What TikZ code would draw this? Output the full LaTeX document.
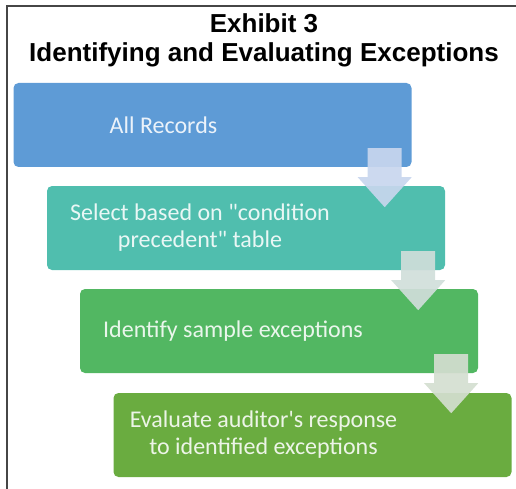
\documentclass[tikz,border=0pt]{standalone}
\usepackage{fontspec}
\setmainfont{Carlito}[Ligatures=TeXOff]
\newfontfamily\headfont{Liberation Sans}
\usetikzlibrary{calc}

\definecolor{frameline}{RGB}{70,70,70}
\definecolor{stepA}{RGB}{94,155,214}
\definecolor{stepB}{RGB}{80,190,174}
\definecolor{stepC}{RGB}{82,183,98}
\definecolor{stepD}{RGB}{106,172,64}
\definecolor{arrowA}{RGB}{200,214,238}
\definecolor{arrowB}{RGB}{208,222,218}
\definecolor{arrowC}{RGB}{212,222,208}

\tikzset{
  stagebox/.style={rectangle, rounded corners=5pt, minimum width=398pt,
    minimum height=84pt, inner sep=0pt, draw=none},
  stagetext/.style={text=white, text opacity=0.88, align=center,
    font=\fontsize{24}{27}\selectfont, inner sep=0pt},
  headline/.style={font=\headfont\bfseries\fontsize{26}{30}\selectfont,
    anchor=base, inner sep=0pt},
  downarrow/.style={fill opacity=0.92, draw=none}
}

% block arrow hanging below the lower-right part of a box
\newcommand\blockarrow[3]{%
  \fill[downarrow, fill=#3] ($(#1.south east)+(-27,-19)$) coordinate (#2)
    ++(-17,0) -- ++(34,0) -- ++(0,29) -- ++(10,0) -- ++(-27,30)
    -- ++(-27,-30) -- ++(10,0) -- cycle;}

\begin{document}
\begin{tikzpicture}[x=1pt,y=-1pt]
  \useasboundingbox (0,0) rectangle (516,489);

  % open frame: left and top rules
  \draw[frameline, line width=1.8pt] (7,489) -- (7,6) -- (516,6);

  % heading
  \node[headline] (title1) at (264,33) {Exhibit 3};
  \node[headline] (title2) at (264,62) {Identifying and Evaluating Exceptions};

  % process stages
  \node[stagebox, fill=stepA] (b1) at (212.5,125) {};
  \node[stagebox, fill=stepB] (b2) at (246,228) {};
  \node[stagebox, fill=stepC] (b3) at (279,331) {};
  \node[stagebox, fill=stepD] (b4) at (312.5,435) {};

  \node[stagetext] (t1) at ($(b1.center)+(-49,0)$) {All Records};
  \node[stagetext] (t2) at ($(b2.center)+(-46,0)$) {Select based on "condition\\precedent" table};
  \node[stagetext] (t3) at ($(b3.center)+(-46,0)$) {Identify sample exceptions};
  \node[stagetext] (t4) at ($(b4.center)+(-49,0)$) {Evaluate auditor's response\\to identified exceptions};

  % arrows between stages
  \blockarrow{b1}{a1}{arrowA}
  \blockarrow{b2}{a2}{arrowB}
  \blockarrow{b3}{a3}{arrowC}
\end{tikzpicture}
\end{document}
